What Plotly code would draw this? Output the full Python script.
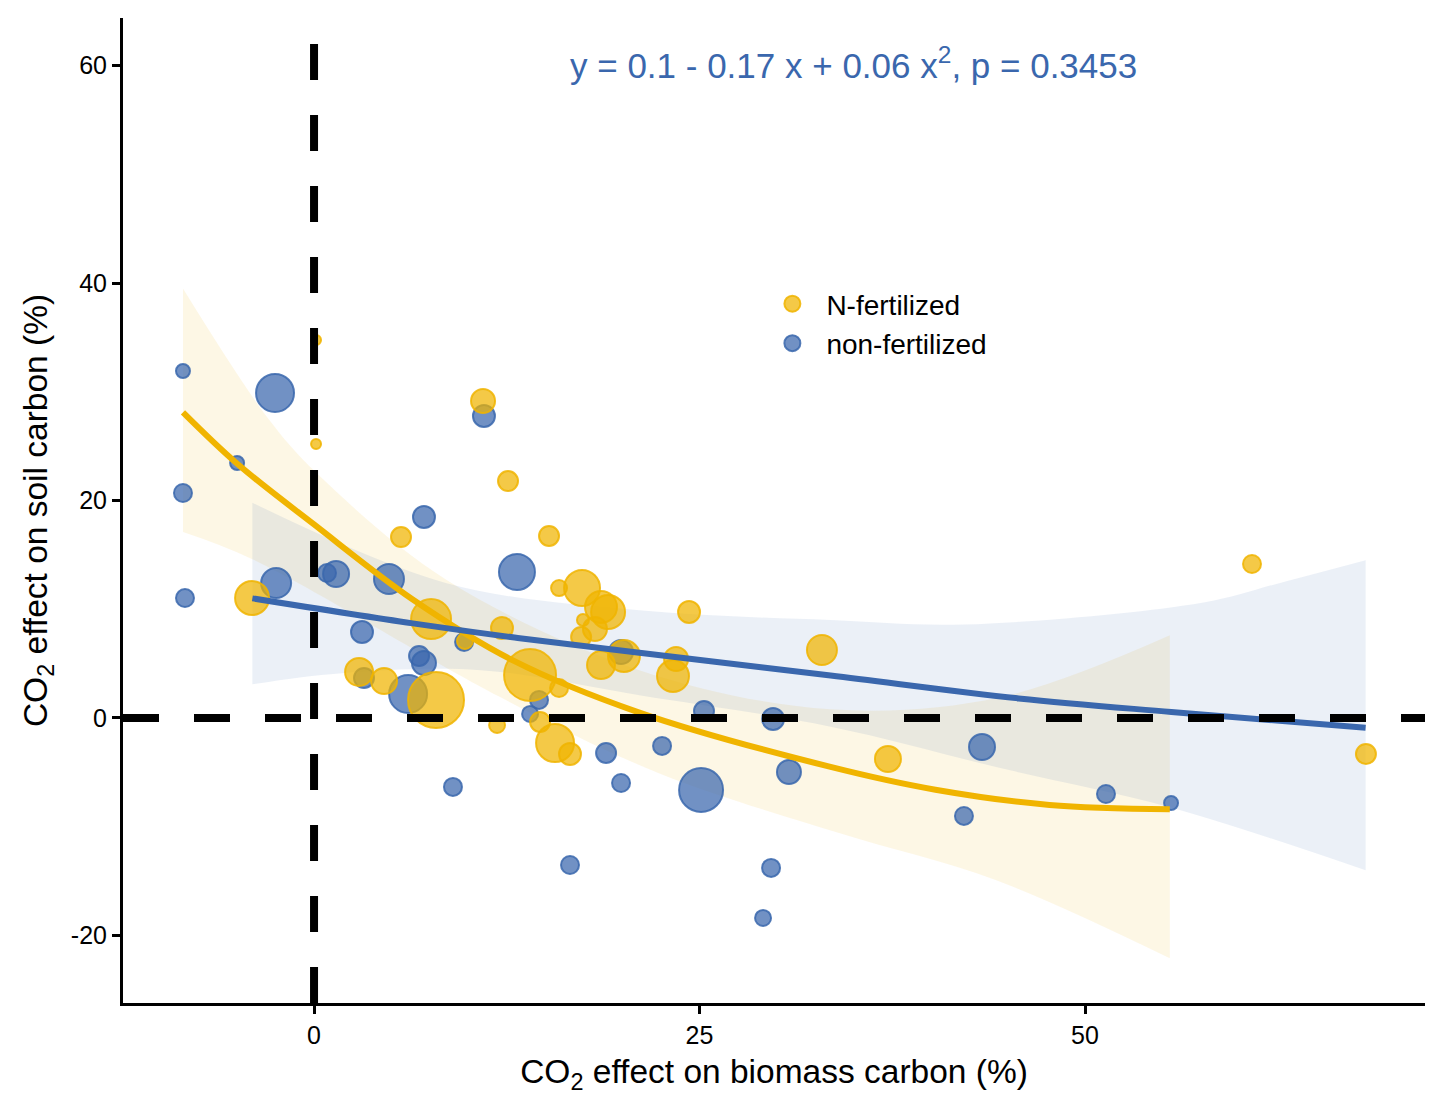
import plotly.graph_objects as go

# CO2 effect on biomass carbon (%) vs soil carbon (%); w = point weight
fert_x = [0.13, 0.13, 10.96, 12.58, 15.24, 5.64, -4.02, 15.89, 17.38, 18.61,
          19.07, 17.44, 18.22, 17.32, 18.61, 20.10, 24.32, 23.48, 23.28, 12.19,
          7.59, 14.01, 7.91, 2.92, 4.54, 11.87, 14.66, 15.63, 16.60, 15.89,
          32.94, 37.22, 60.83, 68.22, 9.79]
fert_y = [34.76, 25.20, 29.15, 21.79, 16.74, 16.64, 11.03, 11.95, 11.95, 10.21,
          9.75, 9.01, 8.18, 7.45, 4.87, 5.70, 9.75, 5.43, 3.86, 8.28,
          9.10, 3.95, 1.66, 4.23, 3.40, -0.64, -0.37, -2.30, -3.31, 2.76,
          6.25, -3.77, 14.16, -3.31, 7.08]
fert_w = [6, 6, 13, 11, 11, 11, 18, 9, 19, 17,
          18, 7, 13, 11, 15, 17, 12, 13, 17, 12,
          21, 27, 29, 15, 14, 9, 11, 20, 12, 10,
          16, 14, 10, 11, 9]

nonf_x = [-8.50, -2.53, -4.99, -8.50, -8.37, -2.46, 7.13, 0.84, 1.43, 4.86,
          13.16, 3.11, 6.81, 7.13, 6.10, 3.24, 9.73, 11.02, 14.59, 14.01,
          18.94, 19.91, 9.01, 19.91, 16.60, 22.57, 25.29, 25.10, 29.77, 30.80,
          29.64, 29.12, 43.32, 42.15, 51.36, 55.58]
nonf_y = [31.91, 29.89, 23.45, 20.69, 11.03, 12.41, 18.48, 13.33, 13.24, 12.78,
          13.43, 7.91, 5.70, 5.06, 2.21, 3.68, 6.99, 27.77, 1.66, 0.37,
          -3.22, -5.98, -6.34, 6.07, -13.52, -2.57, 0.64, -6.62, -0.09, -4.97,
          -13.79, -18.39, -2.67, -9.01, -6.99, -7.82]
nonf_w = [8, 20, 8, 10, 10, 16, 12, 10, 14, 16,
          19, 12, 11, 13, 20, 11, 10, 12, 10, 9,
          11, 10, 10, 13, 10, 10, 11, 23, 12, 13,
          10, 9, 14, 10, 10, 8]

# fitted curves and confidence bands
fert_fit_x = [-8.5, -5, 0, 6.4, 12.9, 21.1, 33.5, 40.3, 47.7, 55.5]
fert_fit_y = [28.1, 23.4, 17.8, 10.9, 5.3, 0.5, -4.5, -6.6, -8.0, -8.4]
fert_hi_x = [-8.5, -2.9, 0.4, 8.6, 21.1, 33.5, 44.5, 55.5]
fert_hi_y = [39.5, 27.4, 22.2, 12.7, 4.4, 0.8, 1.9, 7.6]
fert_lo_x = [-8.5, -4, 12.1, 22.4, 34.1, 44.2, 55.5]
fert_lo_y = [17.1, 14.6, 1.9, -5.1, -10.6, -14.9, -22.1]

nonf_fit_x = [-4, 6.4, 13, 21.1, 33.5, 45.7, 55.6, 68.2]
nonf_fit_y = [11.0, 8.7, 7.4, 6.0, 3.9, 1.8, 0.55, -0.9]
nonf_hi_x = [-4, 8.6, 21.1, 33.5, 42.2, 57.6, 62.6, 68.2]
nonf_hi_y = [19.8, 12.4, 9.9, 9.0, 8.6, 10.6, 12.4, 14.5]
nonf_lo_x = [-4, 1.6, 10.8, 21.1, 33.5, 44.5, 55.5, 68.2]
nonf_lo_y = [3.1, 4.1, 4.4, 2.1, -0.8, -4.6, -8.2, -14.0]

x_ticks = [0, 25, 50]
y_ticks = [-20, 0, 20, 40, 60]
y_ticktext = ["-20", "0", "20", "40", "60"]
eq_text = "y = 0.1 - 0.17 x + 0.06 x<sup>2</sup>, p = 0.3453"

YEL = "#F0B400"
BLU = "#3A67AD"
FONT = "Arial, Liberation Sans, sans-serif"

fig = go.Figure()

# confidence bands
fig.add_trace(go.Scatter(x=fert_lo_x, y=fert_lo_y, mode="lines", line=dict(width=0, shape="spline"),
                         showlegend=False, hoverinfo="skip"))
fig.add_trace(go.Scatter(x=fert_hi_x, y=fert_hi_y, mode="lines", line=dict(width=0, shape="spline"),
                         fill="tonexty", fillcolor="rgba(240,180,0,0.1)", showlegend=False, hoverinfo="skip"))
fig.add_trace(go.Scatter(x=nonf_lo_x, y=nonf_lo_y, mode="lines", line=dict(width=0, shape="spline"),
                         showlegend=False, hoverinfo="skip"))
fig.add_trace(go.Scatter(x=nonf_hi_x, y=nonf_hi_y, mode="lines", line=dict(width=0, shape="spline"),
                         fill="tonexty", fillcolor="rgba(58,103,173,0.1)", showlegend=False, hoverinfo="skip"))

# points (opacity set explicitly, plotly dims bubble markers by default)
blu_pt = dict(color="rgba(58,103,173,0.72)", opacity=1,
              line=dict(color="rgba(58,103,173,0.85)", width=2))
yel_pt = dict(color="rgba(240,180,0,0.72)", opacity=1,
              line=dict(color="rgba(240,180,0,0.85)", width=2))
fig.add_trace(go.Scatter(x=nonf_x, y=nonf_y, mode="markers", showlegend=False,
                         marker=dict(size=[2 * w - 2 for w in nonf_w], **blu_pt)))
fig.add_trace(go.Scatter(x=fert_x, y=fert_y, mode="markers", showlegend=False,
                         marker=dict(size=[2 * w - 2 for w in fert_w], **yel_pt)))

# fitted lines
fig.add_trace(go.Scatter(x=fert_fit_x, y=fert_fit_y, mode="lines", showlegend=False,
                         line=dict(color=YEL, width=6, shape="spline")))
fig.add_trace(go.Scatter(x=nonf_fit_x, y=nonf_fit_y, mode="lines", showlegend=False,
                         line=dict(color=BLU, width=6, shape="spline")))

# legend entries
fig.add_trace(go.Scatter(x=[None], y=[None], mode="markers", name="N-fertilized",
                         marker=dict(size=16, **yel_pt)))
fig.add_trace(go.Scatter(x=[None], y=[None], mode="markers", name="non-fertilized",
                         marker=dict(size=16, **blu_pt)))

# dashed reference lines
fig.add_shape(type="line", xref="paper", yref="y", x0=0, x1=1, y0=0, y1=0, layer="above",
              line=dict(color="black", width=8, dash="36px,35px"))
fig.add_shape(type="line", xref="x", yref="paper", x0=0, x1=0, y0=0, y1=1, layer="above",
              line=dict(color="black", width=8, dash="36px,35px"))

fig.add_annotation(x=35, y=60.2, text=eq_text, showarrow=False, xanchor="center", yanchor="middle",
                   font=dict(family=FONT, size=35, color=BLU))

fig.update_layout(
    width=1438, height=1105,
    margin=dict(l=115, r=21, t=10, b=110),
    plot_bgcolor="white", paper_bgcolor="white",
    font=dict(family=FONT, color="black"),
    legend=dict(x=0.488, y=0.735, xanchor="left", yanchor="top", traceorder="normal",
                font=dict(family=FONT, size=28, color="black"),
                bgcolor="rgba(0,0,0,0)", itemwidth=58),
    xaxis=dict(range=[-12.39, 72.05], tickvals=x_ticks, showgrid=False, zeroline=False,
               showline=True, linecolor="black", linewidth=3, automargin=False,
               ticks="outside", ticklen=8, tickwidth=3, tickcolor="black",
               tickfont=dict(family=FONT, size=25, color="black"),
               title=dict(text="CO<sub>2</sub> effect on biomass carbon (%)",
                          font=dict(family=FONT, size=33.5, color="black"), standoff=12)),
    yaxis=dict(range=[-26.21, 64.37], tickvals=y_ticks, ticktext=y_ticktext,
               showgrid=False, zeroline=False,
               showline=True, linecolor="black", linewidth=3, automargin=False,
               ticks="outside", ticklen=8, tickwidth=3, tickcolor="black",
               tickfont=dict(family=FONT, size=25, color="black"),
               title=dict(text="CO<sub>2</sub> effect on soil carbon (%)",
                          font=dict(family=FONT, size=33.5, color="black"), standoff=14)),
)

fig.write_html("out.html")
